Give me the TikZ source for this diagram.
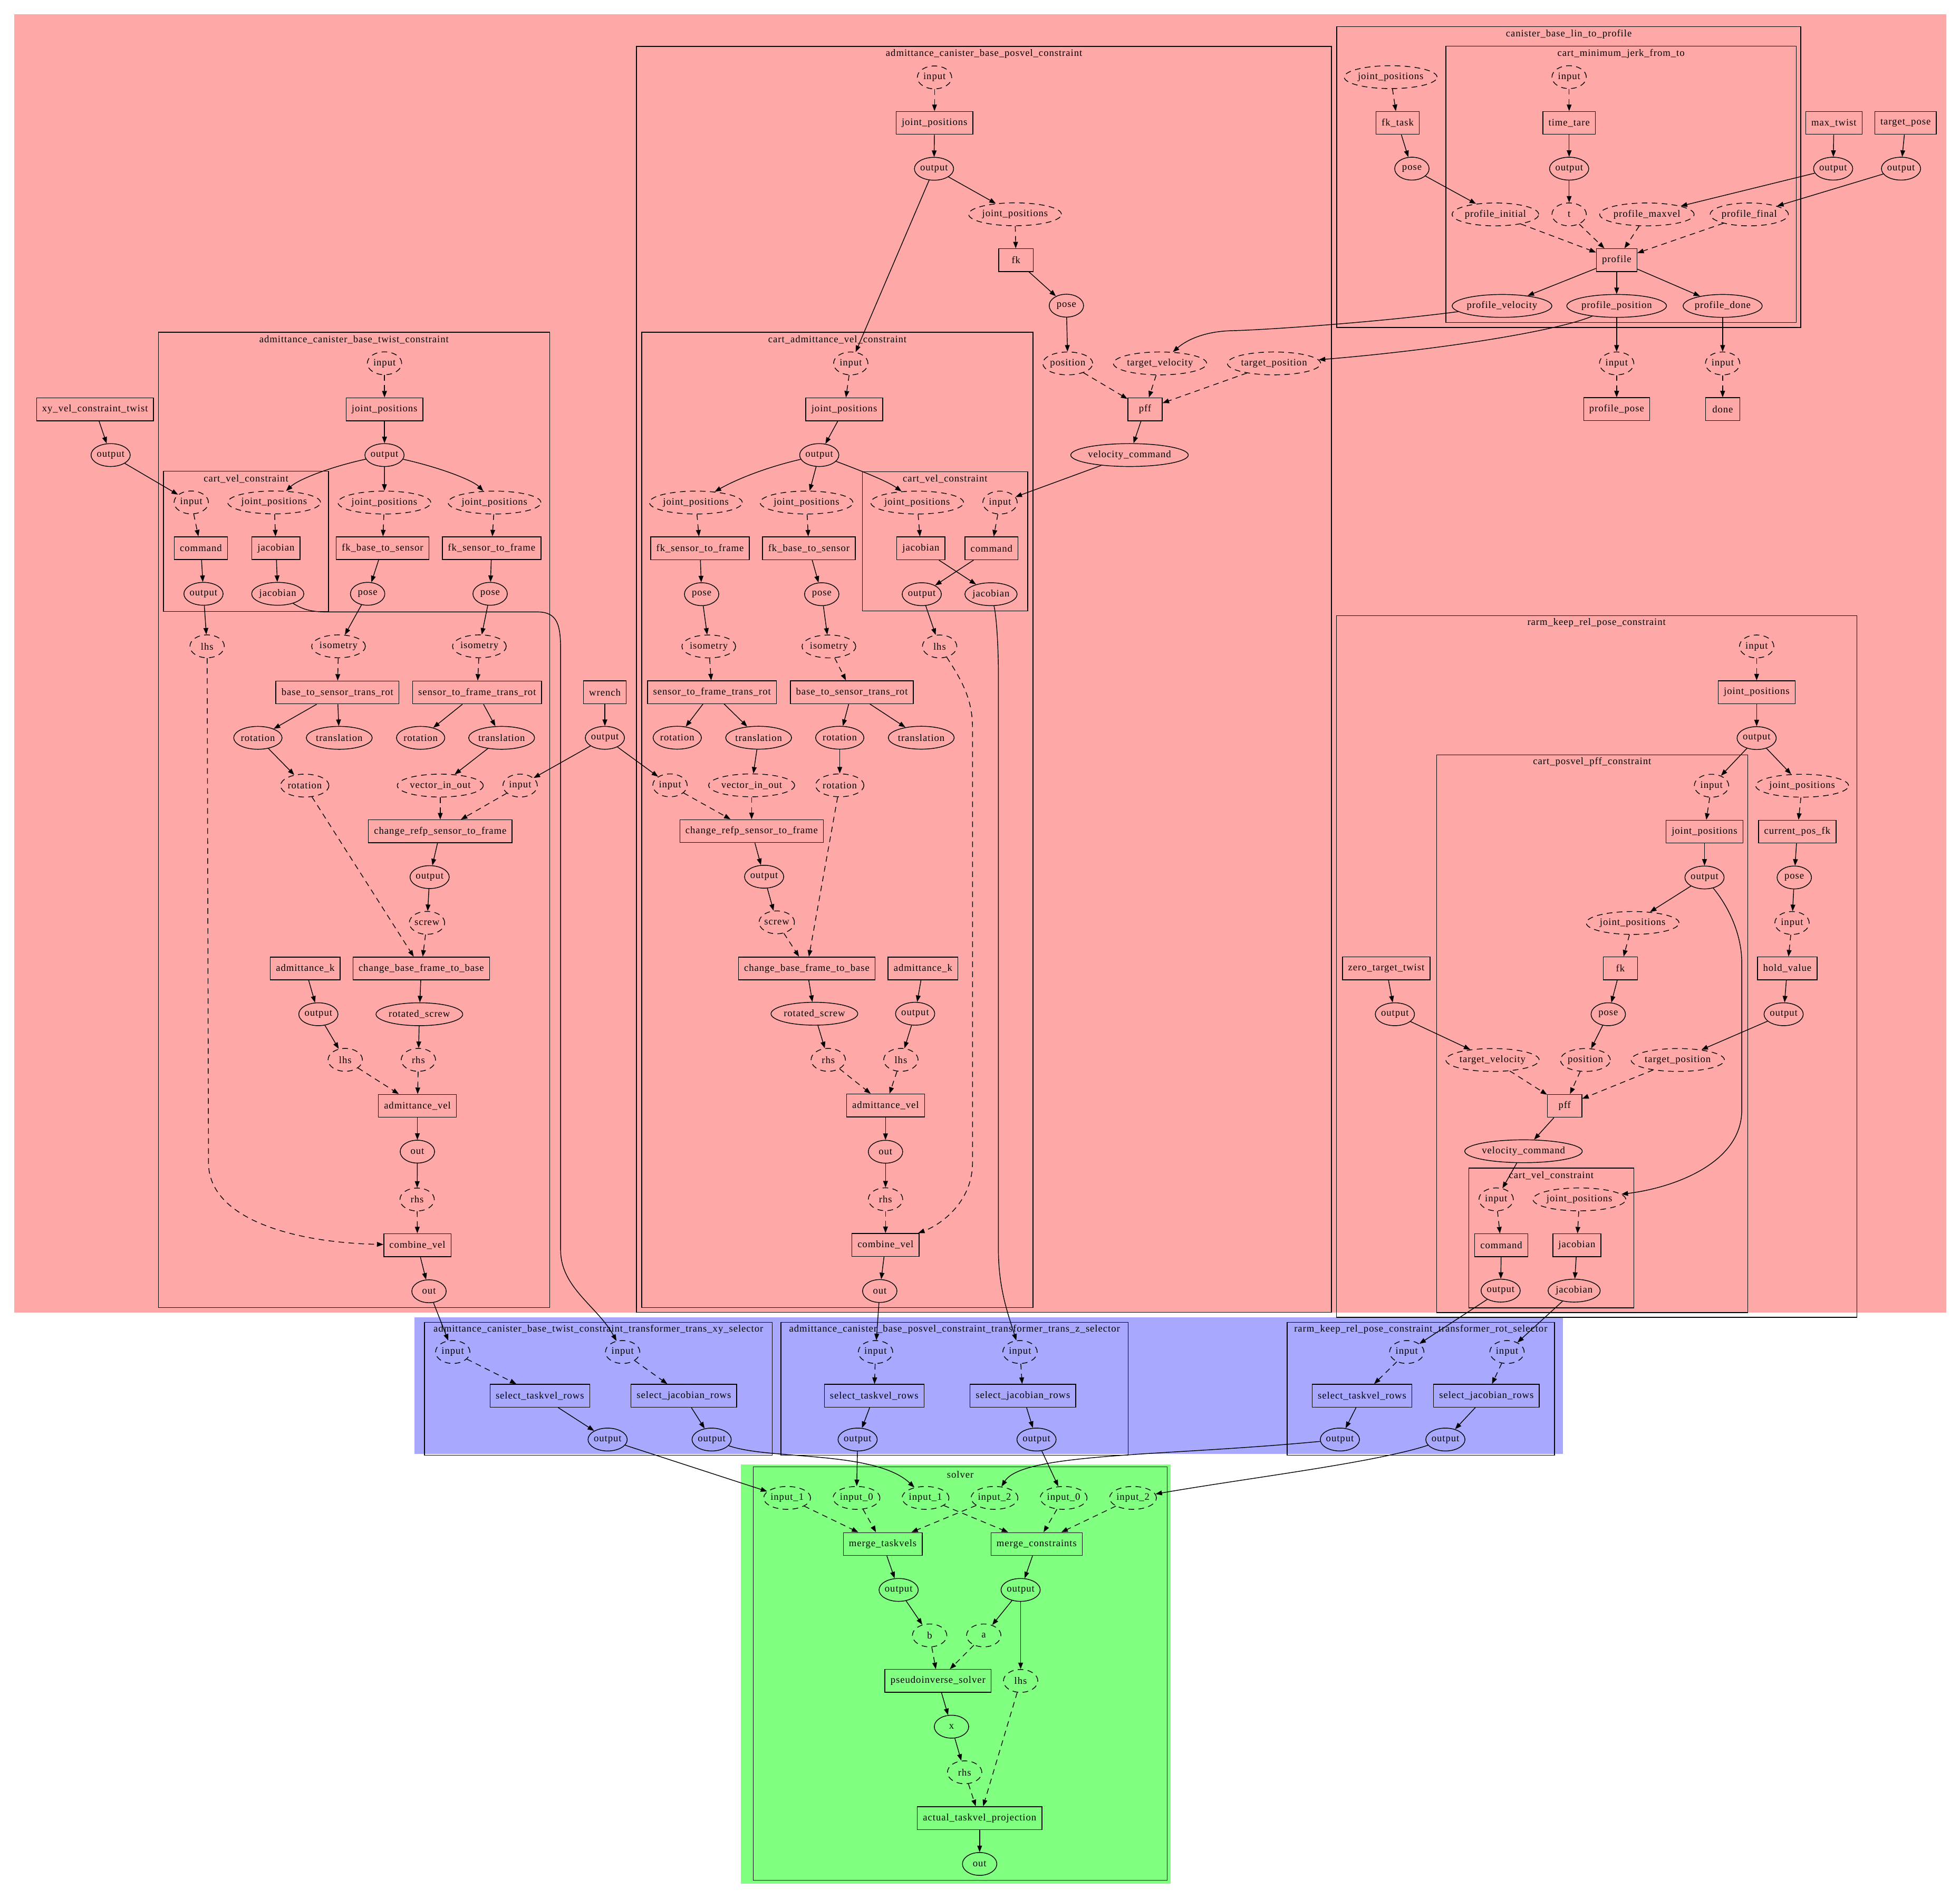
\documentclass[tikz,border=0pt]{standalone}
\usepackage{fontspec}
\setmainfont[LetterSpace=5]{Liberation Serif}
\usetikzlibrary{arrows.meta,shapes.geometric}
\definecolor{pinkbg}{RGB}{255,168,168}
\definecolor{bluebg}{RGB}{168,168,255}
\definecolor{greenbg}{RGB}{128,255,128}
\newlength\tw
\newcommand\nB[3]{\node[bx] (#1) at (#2) {#3};}
\newcommand\nE[3]{\settowidth\tw{\fontsize{7.9}{9.5}\selectfont #3}\pgfmathsetlengthmacro\ew{max(27.5pt,1.27*\tw+12.3pt)}\node[el,minimum width=\ew] (#1) at (#2) {#3};}
\newcommand\nD[3]{\settowidth\tw{\fontsize{7.9}{9.5}\selectfont #3}\pgfmathsetlengthmacro\ew{max(27.5pt,1.27*\tw+12.3pt)}\node[el,dsh,minimum width=\ew] (#1) at (#2) {#3};}
\begin{document}
\begin{tikzpicture}[x=1pt,y=-1pt,line width=0.6pt,
  every node/.style={font=\fontsize{7.9}{9.5}\selectfont},
  dsh/.style={dash pattern=on 4.5pt off 3.5pt},
  bx/.style={draw,rectangle,minimum height=18.3pt,minimum width=27.5pt,inner xsep=4.5pt,inner ysep=0pt},
  el/.style={draw,ellipse,minimum height=18.3pt,inner sep=0pt},
  e/.style={draw,-{Triangle[length=5.2pt,width=3.8pt]}},
  de/.style={e,dsh},
  clu/.style={draw,line width=0.6pt},
  ttl/.style={inner sep=0pt}]
\useasboundingbox (0,0) rectangle (1568,1519);
% backgrounds
\fill[pinkbg] (11.3,11.3) rectangle (1557,1050);
\fill[bluebg] (331.7,1053.8) rectangle (1250.5,1163);
\fill[greenbg] (592.7,1171.5) rectangle (936.3,1507);
% clusters
\draw[clu] (126.7,265.8) rectangle (439.7,1046);
\node[ttl] (tA) at (283.2,271.8) {admittance\_canister\_base\_twist\_constraint};
\draw[clu] (130.8,377) rectangle (262.8,489);
\node[ttl] (tAc) at (196.8,383) {cart\_vel\_constraint};
\draw[clu] (509.2,37.1) rectangle (1065.1,1049.8);
\node[ttl] (tB) at (787.2,43) {admittance\_canister\_base\_posvel\_constraint};
\draw[clu] (513.4,265.8) rectangle (826.3,1046);
\node[ttl] (tBc) at (669.9,271.8) {cart\_admittance\_vel\_constraint};
\draw[clu] (690,377.4) rectangle (822.2,488.7);
\node[ttl] (tBcc) at (756.1,383.2) {cart\_vel\_constraint};
\draw[clu] (1069.3,21.3) rectangle (1440.6,261.9);
\node[ttl] (tC) at (1255,27.2) {canister\_base\_lin\_to\_profile};
\draw[clu] (1156.7,37) rectangle (1437,258);
\node[ttl] (tD) at (1296.8,42.8) {cart\_minimum\_jerk\_from\_to};
\draw[clu] (1069.1,492.4) rectangle (1485.4,1053.8);
\node[ttl] (tE) at (1277.2,498.3) {rarm\_keep\_rel\_pose\_constraint};
\draw[clu] (1149.3,603.9) rectangle (1398.2,1049.9);
\node[ttl] (tF) at (1273.7,609.6) {cart\_posvel\_pff\_constraint};
\draw[clu] (1175,934.4) rectangle (1307,1046.2);
\node[ttl] (tG) at (1241,940.2) {cart\_vel\_constraint};
\draw[clu] (339.6,1057.7) rectangle (617.9,1164);
\node[ttl] (tH) at (478.7,1063.4) {admittance\_canister\_base\_twist\_constraint\_transformer\_trans\_xy\_selector};
\draw[clu] (624.7,1057.7) rectangle (902.6,1164);
\node[ttl] (tI) at (763.6,1063.4) {admittance\_canister\_base\_posvel\_constraint\_transformer\_trans\_z\_selector};
\draw[clu] (1029.7,1057.7) rectangle (1243.6,1164);
\node[ttl] (tJ) at (1136.6,1063.4) {rarm\_keep\_rel\_pose\_constraint\_transformer\_rot\_selector};
\draw[clu] (602.7,1173.3) rectangle (933.7,1504.1);
\node[ttl] (tK) at (768.2,1179.4) {solver};
% ---------- cluster A
\nD{a_in}{307.6,290.6}{input}
\nB{a_jp}{307.6,327.4}{joint\_positions}
\nE{a_out}{307.6,364}{output}
\nD{a_cv_in}{153,401.9}{input}
\nD{a_cv_jp}{219.3,401.9}{joint\_positions}
\nB{a_cv_cmd}{160.7,438.5}{command}
\nB{a_cv_jac}{220.8,438.5}{jacobian}
\nE{a_cv_out}{162.8,475}{output}
\nE{a_cv_jace}{222.2,475}{jacobian}
\nD{a_jp2}{307.5,402}{joint\_positions}
\nD{a_jp3}{395.6,402}{joint\_positions}
\nB{a_fkbs}{306,438.5}{fk\_base\_to\_sensor}
\nB{a_fksf}{393.3,438.5}{fk\_sensor\_to\_frame}
\nE{a_pose1}{294.1,475}{pose}
\nE{a_pose2}{392.1,475}{pose}
\nD{a_lhs}{165.7,517}{lhs}
\nD{a_iso1}{270.8,517}{isometry}
\nD{a_iso2}{383.5,517}{isometry}
\nB{a_bstr}{269.9,553.9}{base\_to\_sensor\_trans\_rot}
\nB{a_sftr}{381.7,553.9}{sensor\_to\_frame\_trans\_rot}
\nE{a_rot1}{206.3,590.2}{rotation}
\nE{a_tr1}{271.4,590.2}{translation}
\nE{a_rot2}{336.5,590.2}{rotation}
\nE{a_tr2}{401.3,590.2}{translation}
\nD{a_rotd}{243.8,628.4}{rotation}
\nD{a_vio}{352.2,628.4}{vector\_in\_out}
\nD{a_win}{416.1,628.4}{input}
\nB{a_crsf}{352.2,665}{change\_refp\_sensor\_to\_frame}
\nE{a_out2}{343.7,701.6}{output}
\nD{a_screw}{341.6,738.2}{screw}
\nB{a_ak}{244.2,774.7}{admittance\_k}
\nB{a_cbfb}{337,774.7}{change\_base\_frame\_to\_base}
\nE{a_akout}{254.7,811.3}{output}
\nE{a_rs}{335.5,811.3}{rotated\_screw}
\nD{a_lhs2}{276.2,847.8}{lhs}
\nD{a_rhs}{334.7,847.8}{rhs}
\nB{a_av}{333.9,884.6}{admittance\_vel}
\nE{a_avout}{333.9,921.2}{out}
\nD{a_rhs2}{333.7,959.5}{rhs}
\nB{a_comb}{333.9,996}{combine\_vel}
\nE{a_cout}{343.2,1032.9}{out}
\nB{xy}{76,327.4}{xy\_vel\_constraint\_twist}
\nE{xy_out}{88.5,364}{output}
\nB{wr}{483.9,553.7}{wrench}
\nE{wr_out}{483.9,590.2}{output}
% ---------- cluster B
\nD{b_in}{747.6,61.9}{input}
\nB{b_jp}{747.6,98.3}{joint\_positions}
\nE{b_out}{747.2,135}{output}
\nD{b_jp2}{812,171.4}{joint\_positions}
\nB{b_fk}{812.8,208.1}{fk}
\nE{b_pose}{853.1,244.5}{pose}
\nD{b_pos}{854.2,290.7}{position}
\nD{b_tv}{928,290.7}{target\_velocity}
\nD{b_tp}{1019.2,290.7}{target\_position}
\nB{b_pff}{916,327.4}{pff}
\nE{b_vc}{903.6,364}{velocity\_command}
\nD{c_in}{680.6,290.7}{input}
\nB{c_jp}{675.4,327.4}{joint\_positions}
\nE{c_out}{655.4,364}{output}
\nD{c_jp1}{556.7,402}{joint\_positions}
\nD{c_jp2}{645.2,402}{joint\_positions}
\nD{c_cv_jp}{733.7,402}{joint\_positions}
\nD{c_cv_in}{800,402}{input}
\nB{c_cv_jac}{736.7,438.6}{jacobian}
\nB{c_cv_cmd}{793.2,438.6}{command}
\nE{c_cv_out}{737.4,475.3}{output}
\nE{c_cv_jace}{792.8,475.3}{jacobian}
\nB{c_fksf}{560,438.6}{fk\_sensor\_to\_frame}
\nB{c_fkbs}{647.1,438.6}{fk\_base\_to\_sensor}
\nE{c_pose1}{561.3,475.3}{pose}
\nE{c_pose2}{657.4,475.3}{pose}
\nD{c_iso1}{567,517.1}{isometry}
\nD{c_iso2}{663.1,517.1}{isometry}
\nD{c_lhs}{751.7,517.1}{lhs}
\nB{c_sftr}{569.6,553.7}{sensor\_to\_frame\_trans\_rot}
\nB{c_bstr}{681.5,553.7}{base\_to\_sensor\_trans\_rot}
\nE{c_rot1}{541.8,590.1}{rotation}
\nE{c_tr1}{606.9,590.1}{translation}
\nE{c_rot2}{671.8,590.1}{rotation}
\nE{c_tr2}{737,590.1}{translation}
\nD{c_win}{536,628.2}{input}
\nD{c_vio}{601.3,628.2}{vector\_in\_out}
\nD{c_rotd}{671.8,628.2}{rotation}
\nB{c_crsf}{601.3,664.8}{change\_refp\_sensor\_to\_frame}
\nE{c_out2}{611.3,701.3}{output}
\nD{c_screw}{621.4,737.8}{screw}
\nB{c_cbfb}{645.4,774.7}{change\_base\_frame\_to\_base}
\nB{c_ak}{738.4,774.7}{admittance\_k}
\nE{c_rs}{651.5,810.9}{rotated\_screw}
\nE{c_akout}{732.1,810.9}{output}
\nD{c_rhs}{662.6,847.8}{rhs}
\nD{c_lhs2}{720.7,847.8}{lhs}
\nB{c_av}{708.4,884.3}{admittance\_vel}
\nE{c_avout}{708.4,921.3}{out}
\nD{c_rhs2}{708.4,959.3}{rhs}
\nB{c_comb}{708.4,995.8}{combine\_vel}
\nE{c_cout}{703.8,1032.7}{out}
% ---------- cluster C / D
\nD{d_jp}{1112.5,61.7}{joint\_positions}
\nB{d_fk}{1118.1,98.3}{fk\_task}
\nE{d_pose}{1129.5,134.9}{pose}
\nD{d_in}{1255.3,61.7}{input}
\nB{d_tt}{1255.3,98.3}{time\_tare}
\nE{d_out}{1255.3,134.9}{output}
\nD{d_pi}{1196.3,171.5}{profile\_initial}
\nD{d_t}{1255.3,171.5}{t}
\nD{d_pm}{1317.5,171.5}{profile\_maxvel}
\nD{d_pf}{1399.4,171.5}{profile\_final}
\nB{d_prof}{1293.3,208.1}{profile}
\nE{d_pv}{1201.6,244.7}{profile\_velocity}
\nE{d_pp}{1293.3,244.7}{profile\_position}
\nE{d_pd}{1378.1,244.7}{profile\_done}
\nB{mt}{1467.1,98.3}{max\_twist}
\nB{tp}{1524.4,98.3}{target\_pose}
\nE{mt_out}{1466.5,134.9}{output}
\nE{tp_out}{1520.8,134.9}{output}
\nD{pp_in}{1293.3,290.7}{input}
\nD{pd_in}{1378.1,290.7}{input}
\nB{pp}{1293.3,327.3}{profile\_pose}
\nB{dn}{1378.1,327.3}{done}
% ---------- cluster E / F / G
\nD{e_in}{1405.3,517.1}{input}
\nB{e_jp}{1405.3,553.7}{joint\_positions}
\nE{e_out}{1405.3,590.4}{output}
\nD{e_jp2}{1441.7,628.5}{joint\_positions}
\nB{e_cpf}{1437.8,665.2}{current\_pos\_fk}
\nE{e_pose}{1435.4,701.9}{pose}
\nD{e_in2}{1433.6,738.3}{input}
\nB{e_hv}{1429.8,774.6}{hold\_value}
\nE{e_hvout}{1426.9,811.3}{output}
\nB{e_zt}{1109,774.6}{zero\_target\_twist}
\nE{e_ztout}{1115.9,811.3}{output}
\nD{f_in}{1369.2,628.5}{input}
\nB{f_jp}{1363.6,665.2}{joint\_positions}
\nE{f_out}{1363.6,701.9}{output}
\nD{f_jp2}{1306.1,738.3}{joint\_positions}
\nB{f_fk}{1296.3,774.6}{fk}
\nE{f_pose}{1286.6,811.3}{pose}
\nD{f_tv}{1194,847.9}{target\_velocity}
\nD{f_pos}{1268.3,847.9}{position}
\nD{f_tp}{1342.2,847.9}{target\_position}
\nB{f_pff}{1251.7,884.6}{pff}
\nE{f_vc}{1218.8,920.9}{velocity\_command}
\nD{g_in}{1196.9,959.4}{input}
\nD{g_jp}{1263.5,959.4}{joint\_positions}
\nB{g_cmd}{1201,996.1}{command}
\nB{g_jac}{1261.5,996.1}{jacobian}
\nE{g_out}{1200.5,1032.4}{output}
\nE{g_jace}{1259.3,1032.4}{jacobian}
% ---------- selectors
\nD{h_in1}{362.2,1081.5}{input}
\nD{h_in2}{498.1,1081.5}{input}
\nB{h_st}{431.9,1116.5}{select\_taskvel\_rows}
\nB{h_sj}{547.1,1116.5}{select\_jacobian\_rows}
\nE{h_o1}{486.1,1151.5}{output}
\nE{h_o2}{569.3,1151.5}{output}
\nD{i_in1}{700.4,1081.5}{input}
\nD{i_in2}{816,1081.5}{input}
\nB{i_st}{699.3,1116.5}{select\_taskvel\_rows}
\nB{i_sj}{818.3,1116.5}{select\_jacobian\_rows}
\nE{i_o1}{686.1,1151.5}{output}
\nE{i_o2}{829.2,1151.5}{output}
\nD{j_in1}{1125.4,1081.5}{input}
\nD{j_in2}{1205.6,1081.5}{input}
\nB{j_st}{1089.6,1116.5}{select\_taskvel\_rows}
\nB{j_sj}{1189.1,1116.5}{select\_jacobian\_rows}
\nE{j_o1}{1071.9,1151.5}{output}
\nE{j_o2}{1156.3,1151.5}{output}
% ---------- solver
\nD{k_i1a}{629.7,1198.2}{input\_1}
\nD{k_i0a}{685.2,1198.2}{input\_0}
\nD{k_i1b}{740.4,1198.2}{input\_1}
\nD{k_i2a}{795.6,1198.2}{input\_2}
\nD{k_i0b}{850.9,1198.2}{input\_0}
\nD{k_i2b}{906.4,1198.2}{input\_2}
\nB{k_mt}{706.2,1235.1}{merge\_taskvels}
\nB{k_mc}{829.3,1235.1}{merge\_constraints}
\nE{k_o1}{718.9,1271.8}{output}
\nE{k_o2}{816.5,1271.8}{output}
\nD{k_b}{743.7,1308.2}{b}
\nD{k_a}{787,1308.2}{a}
\nB{k_ps}{750.4,1344.6}{pseudoinverse\_solver}
\nD{k_lhs}{816.5,1344.6}{lhs}
\nE{k_x}{761.2,1381.2}{x}
\nD{k_rhs}{771.7,1417.7}{rhs}
\nB{k_atp}{783.7,1454.3}{actual\_taskvel\_projection}
\nE{k_out}{783.7,1491}{out}
% ================= edges
% A
\draw[de] (a_in) -- (a_jp);
\draw[e] (a_jp) -- (a_out);
\draw[e] (a_out) .. controls (262,374) and (238,384) .. (a_cv_jp);
\draw[e] (a_out) -- (a_jp2);
\draw[e] (a_out) .. controls (352,374) and (378,384) .. (a_jp3);
\draw[e] (xy) -- (xy_out);
\draw[e] (xy_out) -- (a_cv_in);
\draw[de] (a_cv_in) -- (a_cv_cmd);
\draw[de] (a_cv_jp) -- (a_cv_jac);
\draw[e] (a_cv_cmd) -- (a_cv_out);
\draw[e] (a_cv_jac) -- (a_cv_jace);
\draw[de] (a_jp2) -- (a_fkbs);
\draw[de] (a_jp3) -- (a_fksf);
\draw[e] (a_fkbs) -- (a_pose1);
\draw[e] (a_fksf) -- (a_pose2);
\draw[e] (a_cv_out) -- (a_lhs);
\draw[e] (a_pose1) -- (a_iso1);
\draw[e] (a_pose2) -- (a_iso2);
\draw[de] (a_iso1) -- (a_bstr);
\draw[de] (a_iso2) -- (a_sftr);
\draw[e] (a_bstr) -- (a_rot1);
\draw[e] (a_bstr) -- (a_tr1);
\draw[e] (a_sftr) -- (a_rot2);
\draw[e] (a_sftr) -- (a_tr2);
\draw[e] (a_rot1) -- (a_rotd);
\draw[e] (a_tr2) -- (a_vio);
\draw[e] (wr) -- (wr_out);
\draw[e] (wr_out) -- (a_win);
\draw[de] (a_vio) -- (a_crsf);
\draw[de] (a_win) -- (a_crsf);
\draw[e] (a_crsf) -- (a_out2);
\draw[e] (a_out2) -- (a_screw);
\draw[de] (a_rotd) -- (a_cbfb);
\draw[de] (a_screw) -- (a_cbfb);
\draw[e] (a_ak) -- (a_akout);
\draw[e] (a_cbfb) -- (a_rs);
\draw[e] (a_akout) -- (a_lhs2);
\draw[e] (a_rs) -- (a_rhs);
\draw[de] (a_lhs2) -- (a_av);
\draw[de] (a_rhs) -- (a_av);
\draw[e] (a_av) -- (a_avout);
\draw[e] (a_avout) -- (a_rhs2);
\draw[de] (a_rhs2) -- (a_comb);
\draw[de] (a_lhs) -- (166.8,930) .. controls (166.8,975) and (235,994) .. (a_comb);
\draw[e] (a_comb) -- (a_cout);
\draw[e] (a_cout) -- (h_in1);
\draw[e] (a_cv_jace) .. controls (243,488) and (250,489.5) .. (262,489.5) -- (430,489.5) .. controls (446,489.5) and (448.5,500) .. (448.5,520) -- (448.5,1000) .. controls (448.5,1030) and (478,1045) .. (h_in2);
% B
\draw[de] (b_in) -- (b_jp);
\draw[e] (b_jp) -- (b_out);
\draw[e] (b_out) -- (b_jp2);
\draw[e] (b_out) -- (c_in);
\draw[de] (b_jp2) -- (b_fk);
\draw[e] (b_fk) -- (b_pose);
\draw[e] (b_pose) -- (b_pos);
\draw[de] (b_pos) -- (b_pff);
\draw[de] (b_tv) -- (b_pff);
\draw[de] (b_tp) -- (b_pff);
\draw[e] (b_pff) -- (b_vc);
\draw[e] (b_vc) -- (c_cv_in);
\draw[de] (c_in) -- (c_jp);
\draw[e] (c_jp) -- (c_out);
\draw[e] (c_out) .. controls (612,374) and (588,384) .. (c_jp1);
\draw[e] (c_out) -- (c_jp2);
\draw[e] (c_out) .. controls (690,377) and (710,385) .. (c_cv_jp);
\draw[de] (c_jp1) -- (c_fksf);
\draw[de] (c_jp2) -- (c_fkbs);
\draw[de] (c_cv_jp) -- (c_cv_jac);
\draw[de] (c_cv_in) -- (c_cv_cmd);
\draw[e] (c_cv_jac) -- (c_cv_jace);
\draw[e] (c_cv_cmd) -- (c_cv_out);
\draw[e] (c_fksf) -- (c_pose1);
\draw[e] (c_fkbs) -- (c_pose2);
\draw[e] (c_cv_out) -- (c_lhs);
\draw[e] (c_pose1) -- (c_iso1);
\draw[e] (c_pose2) -- (c_iso2);
\draw[de] (c_iso1) -- (c_sftr);
\draw[de] (c_iso2) -- (c_bstr);
\draw[e] (c_sftr) -- (c_rot1);
\draw[e] (c_sftr) -- (c_tr1);
\draw[e] (c_bstr) -- (c_rot2);
\draw[e] (c_bstr) -- (c_tr2);
\draw[e] (c_tr1) -- (c_vio);
\draw[e] (c_rot2) -- (c_rotd);
\draw[e] (wr_out) -- (c_win);
\draw[de] (c_win) -- (c_crsf);
\draw[de] (c_vio) -- (c_crsf);
\draw[e] (c_crsf) -- (c_out2);
\draw[e] (c_out2) -- (c_screw);
\draw[de] (c_screw) -- (c_cbfb);
\draw[de] (c_rotd) -- (c_cbfb);
\draw[e] (c_cbfb) -- (c_rs);
\draw[e] (c_ak) -- (c_akout);
\draw[e] (c_rs) -- (c_rhs);
\draw[e] (c_akout) -- (c_lhs2);
\draw[de] (c_rhs) -- (c_av);
\draw[de] (c_lhs2) -- (c_av);
\draw[e] (c_av) -- (c_avout);
\draw[e] (c_avout) -- (c_rhs2);
\draw[de] (c_rhs2) -- (c_comb);
\draw[de] (c_lhs) .. controls (770,545) and (778,560) .. (778,582) -- (778,930) .. controls (778,962) and (752,980) .. (c_comb);
\draw[e] (c_comb) -- (c_cout);
\draw[e] (c_cout) -- (i_in1);
\draw[e] (c_cv_jace) .. controls (797,492) and (798.7,515) .. (798.7,540) -- (798.7,999) .. controls (798.7,1030) and (806,1050) .. (i_in2);
% C / D
\draw[de] (d_jp) -- (d_fk);
\draw[e] (d_fk) -- (d_pose);
\draw[e] (d_pose) -- (d_pi);
\draw[de] (d_in) -- (d_tt);
\draw[e] (d_tt) -- (d_out);
\draw[e] (d_out) -- (d_t);
\draw[de] (d_pi) -- (d_prof);
\draw[de] (d_t) -- (d_prof);
\draw[de] (d_pm) -- (d_prof);
\draw[de] (d_pf) -- (d_prof);
\draw[e] (d_prof) -- (d_pv);
\draw[e] (d_prof) -- (d_pp);
\draw[e] (d_prof) -- (d_pd);
\draw[e] (mt) -- (mt_out);
\draw[e] (tp) -- (tp_out);
\draw[e] (mt_out) -- (d_pm);
\draw[e] (tp_out) -- (d_pf);
\draw[e] (d_pp) -- (pp_in);
\draw[e] (d_pd) -- (pd_in);
\draw[de] (pp_in) -- (pp);
\draw[de] (pd_in) -- (dn);
\draw[e] (d_pv) .. controls (1100,258) and (1010,264) .. (986,264.5) .. controls (962,265) and (948,273) .. (b_tv);
\draw[e] (d_pp) .. controls (1245,265) and (1150,280) .. (b_tp);
% E / F / G
\draw[de] (e_in) -- (e_jp);
\draw[e] (e_jp) -- (e_out);
\draw[e] (e_out) -- (f_in);
\draw[e] (e_out) -- (e_jp2);
\draw[de] (e_jp2) -- (e_cpf);
\draw[e] (e_cpf) -- (e_pose);
\draw[e] (e_pose) -- (e_in2);
\draw[de] (e_in2) -- (e_hv);
\draw[e] (e_hv) -- (e_hvout);
\draw[e] (e_hvout) -- (f_tp);
\draw[e] (e_zt) -- (e_ztout);
\draw[e] (e_ztout) -- (f_tv);
\draw[de] (f_in) -- (f_jp);
\draw[e] (f_jp) -- (f_out);
\draw[e] (f_out) -- (f_jp2);
\draw[de] (f_jp2) -- (f_fk);
\draw[e] (f_fk) -- (f_pose);
\draw[e] (f_pose) -- (f_pos);
\draw[de] (f_tv) -- (f_pff);
\draw[de] (f_pos) -- (f_pff);
\draw[de] (f_tp) -- (f_pff);
\draw[e] (f_pff) -- (f_vc);
\draw[e] (f_vc) -- (g_in);
\draw[e] (f_out) .. controls (1385,728) and (1393.4,750) .. (1393.4,770) -- (1393.4,888) .. controls (1393.4,930) and (1340,950) .. (g_jp);
\draw[de] (g_in) -- (g_cmd);
\draw[de] (g_jp) -- (g_jac);
\draw[e] (g_cmd) -- (g_out);
\draw[e] (g_jac) -- (g_jace);
\draw[e] (g_out) -- (j_in1);
\draw[e] (g_jace) -- (j_in2);
% selectors
\draw[de] (h_in1) -- (h_st);
\draw[de] (h_in2) -- (h_sj);
\draw[e] (h_st) -- (h_o1);
\draw[e] (h_sj) -- (h_o2);
\draw[de] (i_in1) -- (i_st);
\draw[de] (i_in2) -- (i_sj);
\draw[e] (i_st) -- (i_o1);
\draw[e] (i_sj) -- (i_o2);
\draw[de] (j_in1) -- (j_st);
\draw[de] (j_in2) -- (j_sj);
\draw[e] (j_st) -- (j_o1);
\draw[e] (j_sj) -- (j_o2);
% solver
\draw[e] (h_o1) -- (k_i1a);
\draw[e] (h_o2) .. controls (615,1168) and (700,1160) .. (k_i1b);
\draw[e] (i_o1) -- (k_i0a);
\draw[e] (i_o2) -- (k_i0b);
\draw[e] (j_o1) .. controls (930,1165) and (818,1162) .. (k_i2a);
\draw[e] (j_o2) .. controls (1100,1170) and (1000,1182) .. (k_i2b);
\draw[de] (k_i1a) -- (k_mt);
\draw[de] (k_i0a) -- (k_mt);
\draw[de] (k_i2a) -- (k_mt);
\draw[de] (k_i1b) -- (k_mc);
\draw[de] (k_i0b) -- (k_mc);
\draw[de] (k_i2b) -- (k_mc);
\draw[e] (k_mt) -- (k_o1);
\draw[e] (k_mc) -- (k_o2);
\draw[e] (k_o1) -- (k_b);
\draw[e] (k_o2) -- (k_a);
\draw[e] (k_o2) -- (k_lhs);
\draw[de] (k_b) -- (k_ps);
\draw[de] (k_a) -- (k_ps);
\draw[e] (k_ps) -- (k_x);
\draw[e] (k_x) -- (k_rhs);
\draw[de] (k_rhs) -- (k_atp);
\draw[de] (k_lhs) -- (k_atp);
\draw[e] (k_atp) -- (k_out);
\end{tikzpicture}
\end{document}
